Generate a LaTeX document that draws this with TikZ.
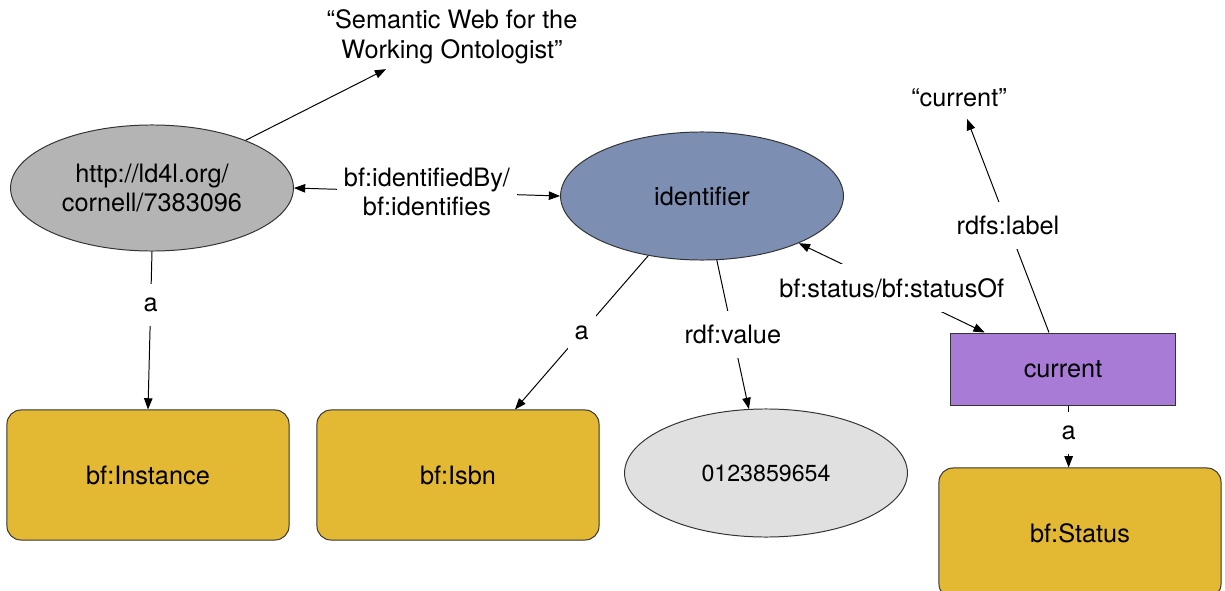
\documentclass[tikz,border=0pt]{standalone}
\usepackage{fontspec}
\setmainfont{TeX Gyre Heros}
\usetikzlibrary{arrows.meta,calc,positioning,shapes.geometric}

\definecolor{urigray}{RGB}{180,180,180}
\definecolor{identblue}{RGB}{124,143,179}
\definecolor{classgold}{RGB}{227,184,50}
\definecolor{litgray}{RGB}{224,224,224}
\definecolor{statpurple}{RGB}{168,123,214}

\begin{document}
\begin{tikzpicture}[
    x=0.025cm, y=-0.025cm,
    line width=0.7pt,
    >={Triangle[length=8pt,width=6pt]},
    every node/.style={font=\fontsize{18}{21}\selectfont},
    resource/.style={
      draw=black!80,ellipse,align=center,minimum width=7.07cm,minimum height=3.2cm
    },
    class/.style={
      draw=black!80,rounded corners=0.35cm,fill=classgold,
      minimum width=7.05cm,minimum height=3.25cm
    },
    lbl/.style={fill=white,inner xsep=5pt,inner ysep=10pt,align=center}
  ]

  \useasboundingbox (0,0) rectangle (1225,591);

  \node (uri)   [resource,fill=urigray,minimum height=3.15cm] at (152,188) {http://ld4l.org/\\cornell/7383096};
  \node (ident) [resource,fill=identblue] at (702,196)  {identifier};
  \node (val)   [resource,fill=litgray,font=\fontsize{16.5}{20}\selectfont] at (766,473) {0123859654};
  \node (title) [align=center]            at (452,37)   {“Semantic Web for the\\Working Ontologist”};
  \node (qcur)  [inner sep=8pt]           at (959,98)   {“current”};

  \node (inst)  [class] at (148,475) {bf:Instance};
  \node (isbn)  [class] at (458,475) {bf:Isbn};
  \node (stat)  [class] at (1080,533) {bf:Status};
  \node (cur)   [draw=black!80,fill=statpurple,minimum width=5.6cm,minimum height=1.8cm] at (1063,369) {current};

  % draw edges
  \draw [->] (uri.27) -- (title.206);
  \draw [<->] (uri.east) -- node[lbl] {bf:identifiedBy/\\bf:identifies} (ident.west);
  \draw [->] (uri.south) -- node[lbl,pos=.34] {a} (inst.north);
  \draw [->] (ident.228) -- node[lbl] {a} (isbn.49);
  \draw [->] (ident.283) -- node[lbl] {rdf:value} (val.105);
  \draw [<->] (ident.334) -- node[lbl] {bf:status/bf:statusOf} (cur.155);
  \draw [->] (cur.111) -- node[lbl] {rdfs:label} (qcur);
  \draw [->] ([xshift=4pt]cur.south) -- node[lbl,pos=.44] {a} ([xshift=4pt]cur.south |- stat.north);
\end{tikzpicture}
\end{document}
